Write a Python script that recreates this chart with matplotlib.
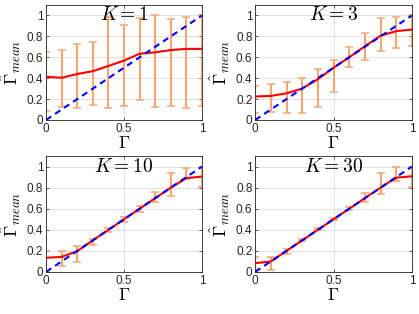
import numpy as np
import matplotlib
matplotlib.use("Agg")
import matplotlib.pyplot as plt

plt.rcParams["font.family"] = ["Liberation Sans", "DejaVu Sans"]
plt.rcParams["mathtext.fontset"] = "cm"

# ===================== DATA =====================
gamma = [0.0, 0.1, 0.2, 0.3, 0.4, 0.5, 0.6, 0.7, 0.8, 0.9, 1.0]
k_values = [1, 3, 10, 30]

mean_k1 = [0.413, 0.404, 0.44, 0.467, 0.517, 0.568, 0.634, 0.647, 0.669, 0.68, 0.68]
lo_k1 = [0.085, 0.12, 0.11, 0.145, 0.115, 0.135, 0.19, 0.12, 0.13, 0.11, 0.13]
hi_k1 = [0.65, 0.67, 0.725, 0.75, 0.99, 0.91, 0.98, 1.0, 0.965, 0.99, 1.0]

mean_k3 = [0.224, 0.23, 0.255, 0.30, 0.39, 0.50, 0.60, 0.705, 0.807, 0.85, 0.865]
lo_k3 = [0.07, 0.08, 0.07, 0.07, 0.12, 0.27, 0.51, 0.57, 0.66, 0.69, 0.705]
hi_k3 = [0.325, 0.34, 0.36, 0.40, 0.49, 0.57, 0.70, 0.83, 0.98, 0.99, 1.0]

mean_k10 = [0.134, 0.143, 0.197, 0.30, 0.40, 0.50, 0.60, 0.70, 0.80, 0.89, 0.905]
lo_k10 = [0.0, 0.055, 0.09, 0.26, 0.375, 0.47, 0.57, 0.66, 0.725, 0.88, 0.81]
hi_k10 = [0.2, 0.2, 0.245, 0.31, 0.415, 0.52, 0.63, 0.755, 0.935, 0.99, 1.0]

mean_k30 = [0.083, 0.099, 0.20, 0.30, 0.40, 0.50, 0.60, 0.70, 0.80, 0.895, 0.908]
lo_k30 = [0.025, 0.022, 0.17, 0.29, 0.395, 0.49, 0.585, 0.665, 0.74, 0.865, 0.81]
hi_k30 = [0.14, 0.146, 0.22, 0.315, 0.415, 0.51, 0.62, 0.75, 0.94, 1.0, 1.0]

means = [mean_k1, mean_k3, mean_k10, mean_k30]
lows = [lo_k1, lo_k3, lo_k10, lo_k30]
highs = [hi_k1, hi_k3, hi_k10, hi_k30]

yticks = [0, 0.2, 0.4, 0.6, 0.8, 1.0]
ytick_labels = ["0", "0.2", "0.4", "0.6", "0.8", "1"]
xticks = [0, 0.5, 1.0]
xtick_labels = ["0", "0.5", "1"]

# ===================== FIGURE =====================
fig = plt.figure(figsize=(4.19, 3.14), dpi=100)

positions = [
    [0.110, 0.618, 0.372, 0.366],
    [0.609, 0.618, 0.374, 0.366],
    [0.110, 0.134, 0.372, 0.369],
    [0.609, 0.134, 0.374, 0.369],
]

err_color = "#F5A673"

for i, k in enumerate(k_values):
    ax = fig.add_axes(positions[i])

    x = np.array(gamma)
    m = np.array(means[i])
    lo = np.array(lows[i])
    hi = np.array(highs[i])
    center = (lo + hi) / 2

    ax.errorbar(x, center, yerr=[center - lo, hi - center], fmt="none",
                ecolor=err_color, elinewidth=1.5, capsize=3.0, capthick=1.1,
                zorder=2)
    ax.plot(x, m, color="red", linewidth=1.5, zorder=3)
    ax.plot([0, 1], [0, 1], color="blue", linestyle=(0, (3, 2.2)),
            linewidth=1.5, zorder=4)

    ax.set_xlim(0, 1)
    ax.set_ylim(0, 1.1)
    ax.set_xticks(xticks)
    ax.set_xticklabels(xtick_labels)
    ax.set_yticks(yticks)
    ax.set_yticklabels(ytick_labels)
    ax.tick_params(direction="in", labelsize=8.5, length=2.5, width=0.5,
                   top=True, right=True, pad=2, colors="#262626")
    ax.grid(True, color="#DCDCDC", linewidth=0.6)
    ax.set_axisbelow(True)
    for sp in ax.spines.values():
        sp.set_linewidth(0.6)
        sp.set_color("#262626")

    ax.set_xlabel(r"$\Gamma$", fontsize=13, labelpad=0)
    ax.set_ylabel(r"$\hat{\Gamma}_{mean}$", fontsize=13, labelpad=3)
    ax.text(0.5, 1.0, r"$K = %d$" % k, fontsize=14, ha="center",
            va="center", zorder=5)

fig.savefig("out.png", dpi=100)
